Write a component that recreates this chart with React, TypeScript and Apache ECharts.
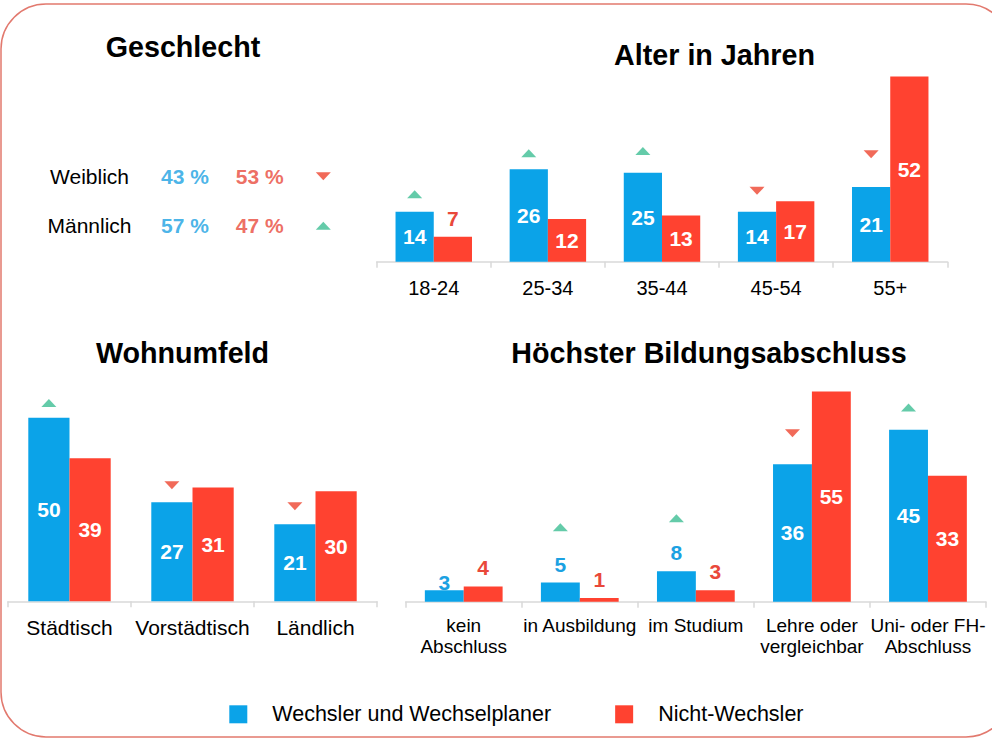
import React, { useEffect, useRef } from 'react';
import * as echarts from 'echarts';

// ---------- data ----------
const seriesNames = ['Wechsler und Wechselplaner', 'Nicht-Wechsler'];

const genderCategories = ['Weiblich', 'Männlich'];
const genderSwitchers = [43, 57];
const genderNonSwitchers = [53, 47];
const genderTrend = ['down', 'up'];

const ageCategories = ['18-24', '25-34', '35-44', '45-54', '55+'];
const ageSwitchers = [14, 26, 25, 14, 21];
const ageNonSwitchers = [7, 12, 13, 17, 52];
const ageTrend = ['up', 'up', 'up', 'down', 'down'];

const livingCategories = ['Städtisch', 'Vorstädtisch', 'Ländlich'];
const livingSwitchers = [50, 27, 21];
const livingNonSwitchers = [39, 31, 30];
const livingTrend = ['up', 'down', 'down'];

const eduCategories = [
  'kein\nAbschluss',
  'in Ausbildung',
  'im Studium',
  'Lehre oder\nvergleichbar',
  'Uni- oder FH-\nAbschluss',
];
const eduSwitchers = [3, 5, 8, 36, 45];
const eduNonSwitchers = [4, 1, 3, 55, 33];
const eduTrend = [null, 'up', 'up', 'down', 'up'];

// ---------- styles / layout ----------
const BLUE = '#0BA3E8';
const RED = '#FF4230';
const BLUE_TXT = '#1BA1E2';
const RED_TXT = '#E9483A';
const GREEN = '#3DBE94';
const RED_TRI = '#EE4530';
const AXIS = '#D9D9D9';
const FONT = '"Liberation Sans", Arial, Helvetica, sans-serif';
const Y_MAX = 60;
const TITLE_SIZE = 28.7;

const panels = [
  {
    cats: ageCategories, a: ageSwitchers, b: ageNonSwitchers, trend: ageTrend,
    left: 376.7, width: 570.6, bottom: 261.7, pxPerUnit: 3.56,
    axisFont: 20, labelMargin: 15, lineHeight: 22,
    markerGap: [17.7, 15.8, 21.8, 21, 32.7], labelDistA: {}, title: 'Alter in Jahren', titleX: 714.5, titleY: 55,
  },
  {
    cats: livingCategories, a: livingSwitchers, b: livingNonSwitchers, trend: livingTrend,
    left: 8, width: 369, bottom: 601.3, pxPerUnit: 3.67,
    axisFont: 21, labelMargin: 15, lineHeight: 22,
    markerGap: [14.8, 17, 18], labelDistA: {}, title: 'Wohnumfeld', titleX: 182.5, titleY: 353,
  },
  {
    cats: eduCategories, a: eduSwitchers, b: eduNonSwitchers, trend: eduTrend,
    left: 405.7, width: 580.3, bottom: 601.7, pxPerUnit: 3.82,
    axisFont: 19, labelMargin: 13.5, lineHeight: 21,
    markerGap: [0, 55.3, 52.8, 31, 22.4], labelDistA: { 0: -3 } as Record<number, number>,
    title: 'Höchster Bildungsabschluss', titleX: 709, titleY: 353,
  },
];

function valueLabel(v: number, txtColor: string, dist: number | undefined) {
  if (v >= 10) {
    return { show: true, position: 'inside', color: '#FFFFFF' };
  }
  return { show: true, position: 'top', distance: dist !== undefined ? dist : 8, color: txtColor };
}

function buildOption() {
  const grid: any[] = [];
  const xAxis: any[] = [];
  const yAxis: any[] = [];
  const series: any[] = [];
  const graphic: any[] = [];

  graphic.push({
    type: 'rect',
    silent: true,
    z: -10,
    shape: { x: 1, y: 4, width: 1010, height: 733, r: 45 },
    style: { fill: 'none', stroke: '#E2796E', lineWidth: 1.5 },
  });

  const titleStyle = (text: string) => ({
    text,
    fontFamily: FONT,
    fontWeight: 'bold',
    fontSize: TITLE_SIZE,
    fill: '#000000',
    align: 'center',
    verticalAlign: 'middle',
  });

  graphic.push({ type: 'text', x: 183, y: 47, style: titleStyle('Geschlecht') });

  panels.forEach((p, i) => {
    const h = Y_MAX * p.pxPerUnit;
    grid.push({ left: p.left, width: p.width, top: p.bottom - h, height: h, containLabel: false });
    xAxis.push({
      type: 'category',
      gridIndex: i,
      data: p.cats,
      axisLine: { show: true, lineStyle: { color: AXIS, width: 1.5 } },
      axisTick: { show: true, length: 6, lineStyle: { color: AXIS, width: 1.5 } },
      axisLabel: {
        interval: 0,
        fontFamily: FONT,
        fontSize: p.axisFont,
        lineHeight: p.lineHeight,
        color: '#000000',
        margin: p.labelMargin,
      },
    });
    yAxis.push({ type: 'value', gridIndex: i, min: 0, max: Y_MAX, show: false });

    const baseLabel = { fontFamily: FONT, fontWeight: 'bold', fontSize: 21, lineHeight: 21 };
    series.push({
      type: 'bar',
      name: seriesNames[0],
      xAxisIndex: i,
      yAxisIndex: i,
      barGap: '0%',
      barCategoryGap: '33%',
      itemStyle: { color: BLUE },
      label: baseLabel,
      data: p.a.map((v, j) => ({ value: v, label: valueLabel(v, BLUE_TXT, (p.labelDistA as any)[j]) })),
    });
    series.push({
      type: 'bar',
      name: seriesNames[1],
      xAxisIndex: i,
      yAxisIndex: i,
      barGap: '0%',
      barCategoryGap: '33%',
      itemStyle: { color: RED },
      label: baseLabel,
      data: p.b.map((v) => ({ value: v, label: valueLabel(v, RED_TXT, undefined) })),
    });

    const catW = p.width / p.cats.length;
    const halfBar = (catW * 0.335) / 2;
    const markers: any[] = [];
    p.trend.forEach((t, j) => {
      if (!t) return;
      markers.push({
        value: [j, p.a[j]],
        symbolRotate: t === 'up' ? 0 : 180,
        symbolOffset: [-halfBar, -p.markerGap[j]],
        itemStyle: { color: t === 'up' ? GREEN : RED_TRI },
      });
    });
    series.push({
      type: 'scatter',
      name: 'trend-' + i,
      xAxisIndex: i,
      yAxisIndex: i,
      symbol: 'triangle',
      symbolSize: [15, 8],
      silent: true,
      z: 5,
      data: markers,
    });

    graphic.push({ type: 'text', x: p.titleX, y: p.titleY, style: titleStyle(p.title) });
  });

  // Gender table as a category grid
  const gi = panels.length;
  grid.push({ left: 147.65, width: 149.4, top: 151.55, height: 99, containLabel: false });
  xAxis.push({ type: 'category', gridIndex: gi, data: seriesNames, show: false });
  yAxis.push({
    type: 'category',
    gridIndex: gi,
    data: genderCategories,
    inverse: true,
    axisLine: { show: false },
    axisTick: { show: false },
    splitLine: { show: false },
    axisLabel: {
      margin: 58.15,
      align: 'center',
      fontFamily: FONT,
      fontSize: 21,
      color: '#000000',
    },
  });
  const pctLabel = (color: string) => ({
    show: true,
    position: 'inside',
    fontFamily: FONT,
    fontWeight: 'bold',
    fontSize: 21,
    color,
    formatter: (q: any) => q.value[2] + ' %',
  });
  series.push({
    type: 'scatter',
    name: 'gender-a',
    xAxisIndex: gi,
    yAxisIndex: gi,
    symbolSize: 0.1,
    itemStyle: { color: 'rgba(0,0,0,0)' },
    silent: true,
    label: pctLabel(BLUE_TXT),
    data: genderSwitchers.map((v, j) => [0, j, v]),
  });
  series.push({
    type: 'scatter',
    name: 'gender-b',
    xAxisIndex: gi,
    yAxisIndex: gi,
    symbolSize: 0.1,
    itemStyle: { color: 'rgba(0,0,0,0)' },
    silent: true,
    label: pctLabel(RED_TXT),
    data: genderNonSwitchers.map((v, j) => [1, j, v]),
  });
  series.push({
    type: 'scatter',
    name: 'gender-trend',
    xAxisIndex: gi,
    yAxisIndex: gi,
    symbol: 'triangle',
    symbolSize: [15, 8],
    silent: true,
    data: genderTrend.map((t, j) => ({
      value: [1, j],
      symbolRotate: t === 'up' ? 0 : 180,
      symbolOffset: [63.6, 0],
      itemStyle: { color: t === 'up' ? GREEN : RED_TRI },
    })),
  });

  return {
    animation: false,
    backgroundColor: '#FFFFFF',
    textStyle: { fontFamily: FONT },
    legend: {
      data: seriesNames,
      left: 229.3,
      top: 703.3,
      padding: 0,
      itemWidth: 18,
      itemHeight: 18,
      itemGap: 64,
      icon: 'rect',
      selectedMode: false,
      textStyle: { fontFamily: FONT, fontSize: 21.5, color: '#000000', padding: [0, 0, 0, 20] },
    },
    grid,
    xAxis,
    yAxis,
    series,
    graphic,
  };
}

export default function App() {
  const ref = useRef<HTMLDivElement>(null);
  useEffect(() => {
    if (!ref.current) return;
    const chart = echarts.init(ref.current, null, { renderer: 'svg' });
    chart.setOption(buildOption() as any);
    return () => chart.dispose();
  }, []);
  return (
    <div
      ref={ref}
      style={{ position: 'absolute', left: 0, top: 0, width: 992, height: 748, background: '#fff' }}
    />
  );
}
